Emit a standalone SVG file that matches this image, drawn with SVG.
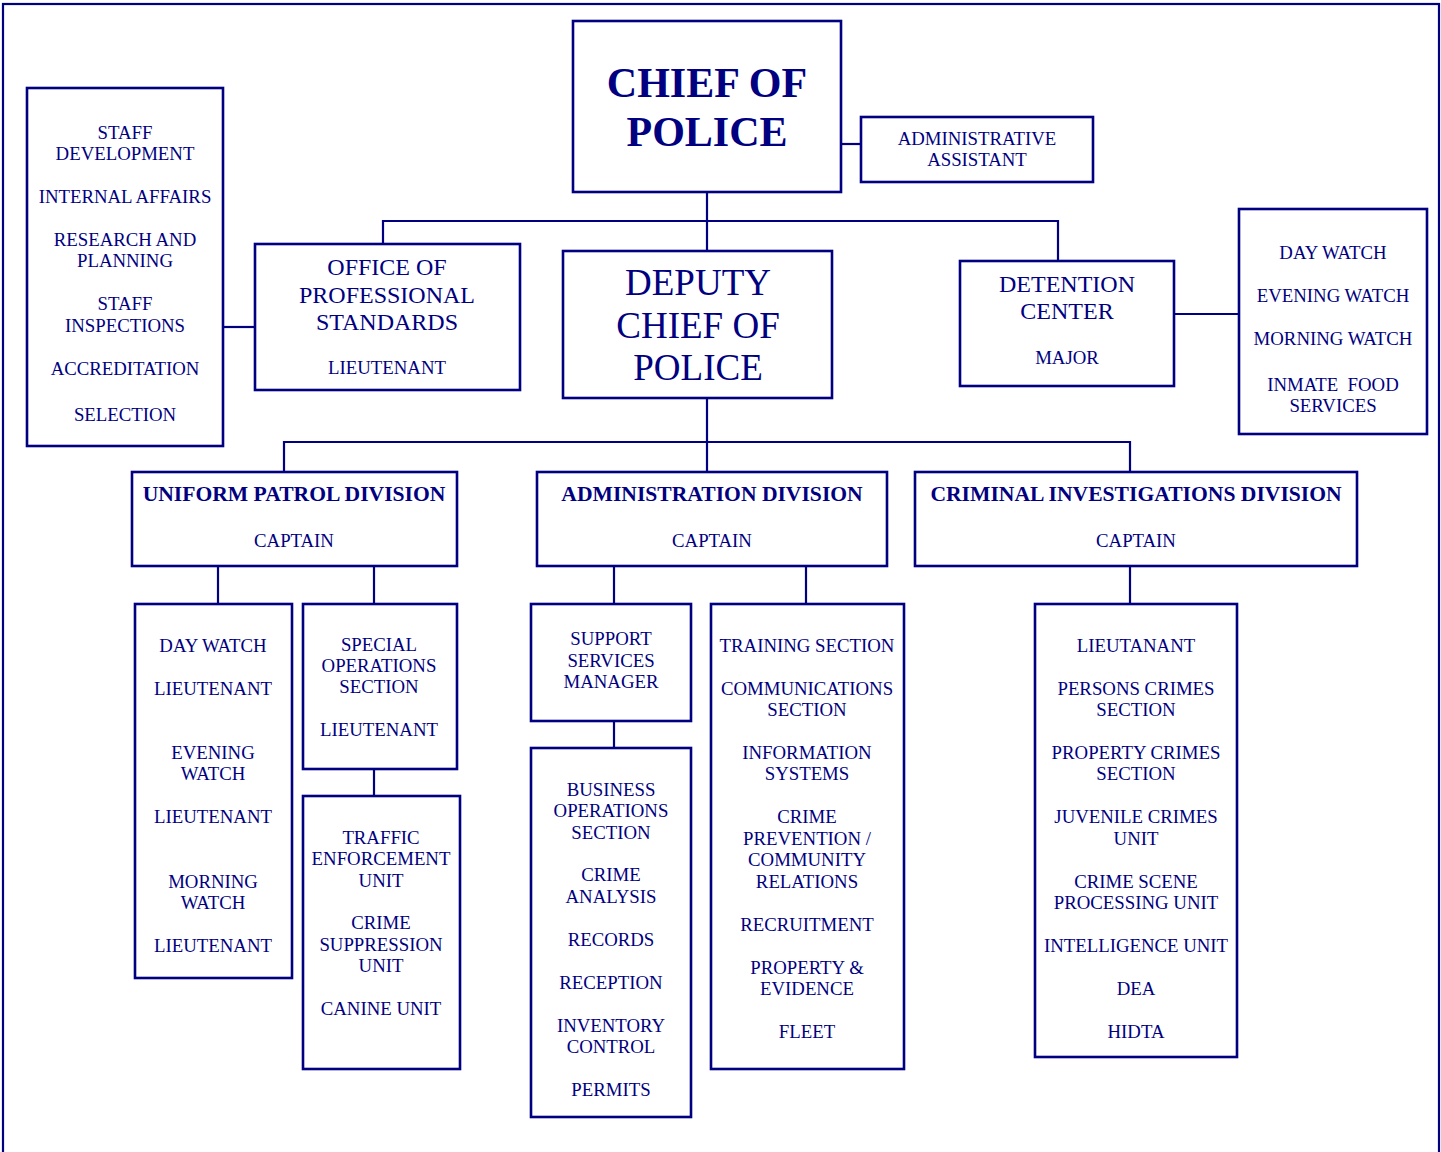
<svg xmlns="http://www.w3.org/2000/svg" width="1441" height="1152" viewBox="0 0 1441 1152">
<style>
.box{fill:#fff;stroke:#000080;stroke-width:2.6}
.ln{fill:none;stroke:#000080;stroke-width:2.2}
text{font-family:"Liberation Serif","Times New Roman",serif;fill:#000080;text-anchor:middle;font-size:18.8px}
.b{font-weight:bold;font-size:21.6px}
.chief{font-weight:bold;font-size:42px}
.dep{font-size:37px}
.mid{font-size:24px}
</style>
<rect x="0" y="0" width="1441" height="1152" fill="#fff"/>
<rect x="3" y="4" width="1436" height="1170" fill="none" stroke="#000080" stroke-width="2.2"/>
<g id="connectors">
<path class="ln" d="M707 192V251"/>
<path class="ln" d="M841 144H861"/>
<path class="ln" d="M383 244V221H1058V261"/>
<path class="ln" d="M223 327H255"/>
<path class="ln" d="M1174 314H1239"/>
<path class="ln" d="M707 398V472"/>
<path class="ln" d="M284 472V442H1130V472"/>
<path class="ln" d="M218 566V604"/>
<path class="ln" d="M374 566V604"/>
<path class="ln" d="M374 769V796"/>
<path class="ln" d="M614 566V604"/>
<path class="ln" d="M806 566V604"/>
<path class="ln" d="M614 721V748"/>
<path class="ln" d="M1130 566V604"/>
</g>
<g id="chief">
<rect class="box" x="573" y="21" width="268" height="171"/>
<text class="chief" x="707" y="97">CHIEF OF</text>
<text class="chief" x="707" y="146">POLICE</text>
</g>
<g id="admin-assistant">
<rect class="box" x="861" y="117" width="232" height="65"/>
<text x="977" y="145">ADMINISTRATIVE</text>
<text x="977" y="166">ASSISTANT</text>
</g>
<g id="staff-list">
<rect class="box" x="27" y="88" width="196" height="358"/>
<text x="125" y="139">STAFF</text>
<text x="125" y="160">DEVELOPMENT</text>
<text x="125" y="203">INTERNAL AFFAIRS</text>
<text x="125" y="246">RESEARCH AND</text>
<text x="125" y="267">PLANNING</text>
<text x="125" y="310">STAFF</text>
<text x="125" y="332">INSPECTIONS</text>
<text x="125" y="375">ACCREDITATION</text>
<text x="125" y="421">SELECTION</text>
</g>
<g id="ops">
<rect class="box" x="255" y="244" width="265" height="146"/>
<text class="mid" x="387" y="275">OFFICE OF</text>
<text class="mid" x="387" y="303">PROFESSIONAL</text>
<text class="mid" x="387" y="330">STANDARDS</text>
<text x="387" y="374">LIEUTENANT</text>
</g>
<g id="deputy">
<rect class="box" x="563" y="251" width="269" height="147"/>
<text class="dep" x="698" y="295">DEPUTY</text>
<text class="dep" x="698" y="338">CHIEF OF</text>
<text class="dep" x="698" y="380">POLICE</text>
</g>
<g id="detention">
<rect class="box" x="960" y="261" width="214" height="125"/>
<text class="mid" x="1067" y="292">DETENTION</text>
<text class="mid" x="1067" y="319">CENTER</text>
<text x="1067" y="364">MAJOR</text>
</g>
<g id="detention-watches">
<rect class="box" x="1239" y="209" width="188" height="225"/>
<text x="1333" y="259">DAY WATCH</text>
<text x="1333" y="302">EVENING WATCH</text>
<text x="1333" y="345">MORNING WATCH</text>
<text x="1333" y="391" xml:space="preserve">INMATE  FOOD</text>
<text x="1333" y="412">SERVICES</text>
</g>
<g id="upd">
<rect class="box" x="132" y="472" width="325" height="94"/>
<text class="b" x="294" y="501">UNIFORM PATROL DIVISION</text>
<text x="294" y="547">CAPTAIN</text>
</g>
<g id="admin-div">
<rect class="box" x="537" y="472" width="350" height="94"/>
<text class="b" x="712" y="501">ADMINISTRATION DIVISION</text>
<text x="712" y="547">CAPTAIN</text>
</g>
<g id="cid">
<rect class="box" x="915" y="472" width="442" height="94"/>
<text class="b" x="1136" y="501">CRIMINAL INVESTIGATIONS DIVISION</text>
<text x="1136" y="547">CAPTAIN</text>
</g>
<g id="watches">
<rect class="box" x="135" y="604" width="157" height="374"/>
<text x="213" y="652">DAY WATCH</text>
<text x="213" y="695">LIEUTENANT</text>
<text x="213" y="759">EVENING</text>
<text x="213" y="780">WATCH</text>
<text x="213" y="823">LIEUTENANT</text>
<text x="213" y="888">MORNING</text>
<text x="213" y="909">WATCH</text>
<text x="213" y="952">LIEUTENANT</text>
</g>
<g id="special-ops">
<rect class="box" x="303" y="604" width="154" height="165"/>
<text x="379" y="651">SPECIAL</text>
<text x="379" y="672">OPERATIONS</text>
<text x="379" y="693">SECTION</text>
<text x="379" y="736">LIEUTENANT</text>
</g>
<g id="traffic">
<rect class="box" x="303" y="796" width="157" height="273"/>
<text x="381" y="844">TRAFFIC</text>
<text x="381" y="865">ENFORCEMENT</text>
<text x="381" y="887">UNIT</text>
<text x="381" y="929">CRIME</text>
<text x="381" y="951">SUPPRESSION</text>
<text x="381" y="972">UNIT</text>
<text x="381" y="1015">CANINE UNIT</text>
</g>
<g id="support">
<rect class="box" x="531" y="604" width="160" height="117"/>
<text x="611" y="645">SUPPORT</text>
<text x="611" y="667">SERVICES</text>
<text x="611" y="688">MANAGER</text>
</g>
<g id="business">
<rect class="box" x="531" y="748" width="160" height="369"/>
<text x="611" y="796">BUSINESS</text>
<text x="611" y="817">OPERATIONS</text>
<text x="611" y="839">SECTION</text>
<text x="611" y="881">CRIME</text>
<text x="611" y="903">ANALYSIS</text>
<text x="611" y="946">RECORDS</text>
<text x="611" y="989">RECEPTION</text>
<text x="611" y="1032">INVENTORY</text>
<text x="611" y="1053">CONTROL</text>
<text x="611" y="1096">PERMITS</text>
</g>
<g id="training">
<rect class="box" x="711" y="604" width="193" height="465"/>
<text x="807" y="652">TRAINING SECTION</text>
<text x="807" y="695">COMMUNICATIONS</text>
<text x="807" y="716">SECTION</text>
<text x="807" y="759">INFORMATION</text>
<text x="807" y="780">SYSTEMS</text>
<text x="807" y="823">CRIME</text>
<text x="807" y="845">PREVENTION /</text>
<text x="807" y="866">COMMUNITY</text>
<text x="807" y="888">RELATIONS</text>
<text x="807" y="931">RECRUITMENT</text>
<text x="807" y="974">PROPERTY &amp;</text>
<text x="807" y="995">EVIDENCE</text>
<text x="807" y="1038">FLEET</text>
</g>
<g id="cid-units">
<rect class="box" x="1035" y="604" width="202" height="453"/>
<text x="1136" y="652">LIEUTANANT</text>
<text x="1136" y="695">PERSONS CRIMES</text>
<text x="1136" y="716">SECTION</text>
<text x="1136" y="759">PROPERTY CRIMES</text>
<text x="1136" y="780">SECTION</text>
<text x="1136" y="823">JUVENILE CRIMES</text>
<text x="1136" y="845">UNIT</text>
<text x="1136" y="888">CRIME SCENE</text>
<text x="1136" y="909">PROCESSING UNIT</text>
<text x="1136" y="952">INTELLIGENCE UNIT</text>
<text x="1136" y="995">DEA</text>
<text x="1136" y="1038">HIDTA</text>
</g>
</svg>
